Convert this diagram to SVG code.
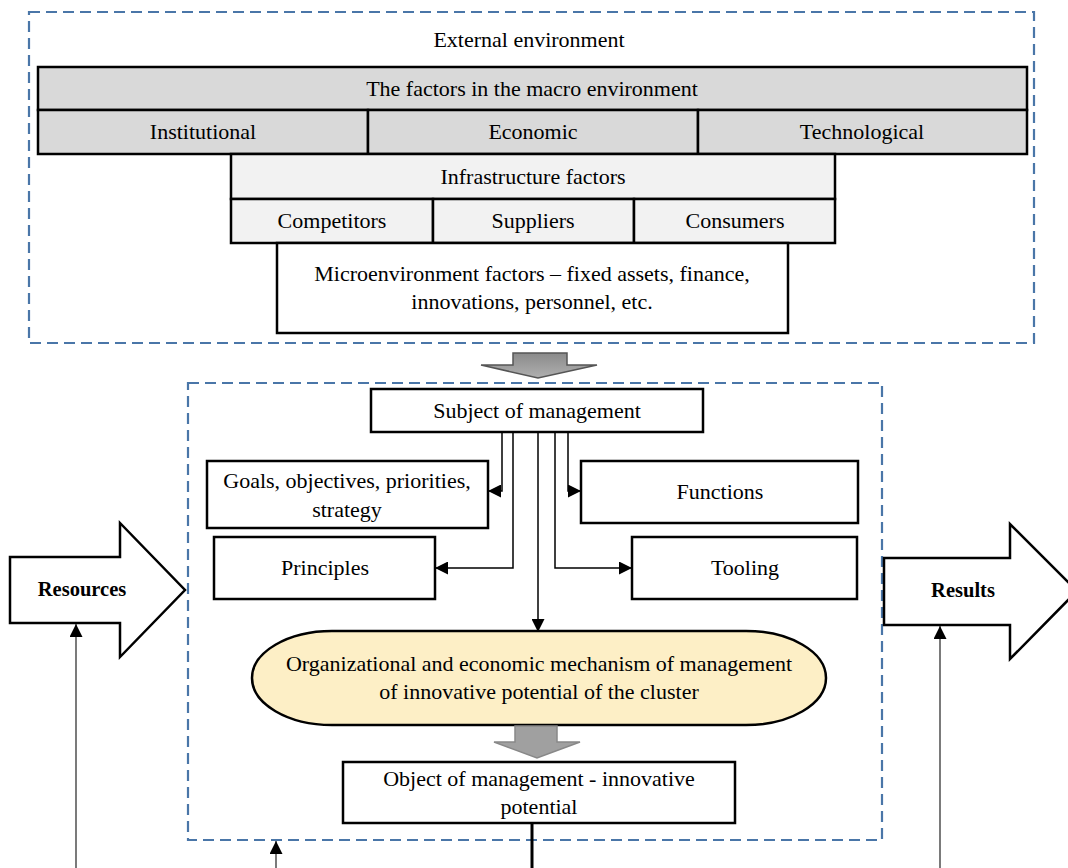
<svg xmlns="http://www.w3.org/2000/svg" width="1068" height="868" viewBox="0 0 1068 868">
<style>
text{font-family:"Liberation Serif","Times New Roman",serif;font-size:22px;fill:#000;text-anchor:middle;dominant-baseline:central}
.b{font-weight:bold;font-size:20.5px}
.box{stroke:#000;stroke-width:2.5}
.dash{fill:none;stroke:#4a76a8;stroke-width:2.2;stroke-dasharray:11 6}
.macro{fill:#d9d9d9}
.infra{fill:#f2f2f2}
.w{fill:#fff}
.con{fill:none;stroke:#000;stroke-width:1.5}
.thin{fill:none;stroke:#333;stroke-width:1.3}
</style>
<defs>
<marker id="ah2" viewBox="0 0 10 10" refX="10" refY="5" markerWidth="14" markerHeight="13" markerUnits="userSpaceOnUse" orient="auto">
<path d="M0 0L10 5L0 10z" fill="#000"/>
</marker>
<linearGradient id="g1" x1="0" y1="0" x2="0" y2="1">
<stop offset="0" stop-color="#8a8a8a"/>
<stop offset="1" stop-color="#b0b0b0"/>
</linearGradient>
</defs>
<rect x="0" y="0" width="1068" height="868" fill="#fff"/>

<g id="external">
<rect class="dash" x="29" y="12" width="1005" height="331"/>
<text x="529" y="39">External environment</text>
</g>
<g id="macro">
<rect class="box macro" x="38" y="67" width="989" height="43"/>
<text x="532" y="88">The factors in the macro environment</text>
</g>
<g id="institutional">
<rect class="box macro" x="38" y="110" width="330" height="44"/>
<text x="203" y="131">Institutional</text>
</g>
<g id="economic">
<rect class="box macro" x="368" y="110" width="330" height="44"/>
<text x="533" y="131">Economic</text>
</g>
<g id="technological">
<rect class="box macro" x="698" y="110" width="329" height="44"/>
<text x="862" y="131">Technological</text>
</g>
<g id="infrastructure">
<rect class="box infra" x="231" y="154" width="604" height="45"/>
<text x="533" y="176">Infrastructure factors</text>
</g>
<g id="competitors">
<rect class="box infra" x="231" y="199" width="202" height="44"/>
<text x="332" y="220">Competitors</text>
</g>
<g id="suppliers">
<rect class="box infra" x="433" y="199" width="201" height="44"/>
<text x="533" y="220">Suppliers</text>
</g>
<g id="consumers">
<rect class="box infra" x="634" y="199" width="201" height="44"/>
<text x="735" y="220">Consumers</text>
</g>
<g id="micro">
<rect class="box w" x="277" y="243" width="511" height="90"/>
<text x="532" y="273">Microenvironment factors – fixed assets, finance,</text>
<text x="532" y="301">innovations, personnel, etc.</text>
</g>

<g id="internal">
<rect class="dash" x="188" y="383" width="694" height="457"/>
</g>

<g id="arrow1">
<path d="M513 353H567V365H597L538 378L481 365H513Z" fill="url(#g1)" stroke="#555" stroke-width="1.5"/>
</g>

<g id="subject">
<rect class="box w" x="371" y="389" width="332" height="43"/>
<text x="537" y="410">Subject of management</text>
</g>
<g id="goals">
<rect class="box w" x="207" y="461" width="281" height="67"/>
<text x="347" y="480">Goals, objectives, priorities,</text>
<text x="347" y="509">strategy</text>
</g>
<g id="functions">
<rect class="box w" x="581" y="461" width="277" height="62"/>
<text x="720" y="491">Functions</text>
</g>
<g id="principles">
<rect class="box w" x="214" y="537" width="221" height="62"/>
<text x="325" y="567">Principles</text>
</g>
<g id="tooling">
<rect class="box w" x="632" y="537" width="225" height="62"/>
<text x="745" y="567">Tooling</text>
</g>
<g id="mechanism">
<rect x="252" y="631" width="574" height="94" rx="80" ry="47" fill="#fdefc6" stroke="#000" stroke-width="2.5"/>
<text x="539" y="663">Organizational and economic mechanism of management</text>
<text x="539" y="691">of innovative potential of the cluster</text>
</g>
<g id="arrow2">
<path d="M515 726H557V742H580L537 758L494 742H515Z" fill="#a0a0a0" stroke="#888" stroke-width="1.5"/>
</g>
<g id="object">
<rect class="box w" x="343" y="762" width="392" height="61"/>
<text x="539" y="778">Object of management - innovative</text>
<text x="539" y="806">potential</text>
</g>

<g id="resources">
<path d="M10 557H120V523L185 590L120 657V623H10Z" fill="#fff" stroke="#000" stroke-width="2.5"/>
<text class="b" x="82" y="589">Resources</text>
</g>
<g id="results">
<path d="M884 558H1010V524L1077 591L1010 659V625H884Z" fill="#fff" stroke="#000" stroke-width="2.5"/>
<text class="b" x="963" y="590">Results</text>
</g>

<g id="connectors">
<path class="con" d="M502 432V491H488" marker-end="url(#ah2)"/>
<path class="con" d="M513 432V568H435" marker-end="url(#ah2)"/>
<path class="con" d="M538 432V632" marker-end="url(#ah2)"/>
<path class="con" d="M555 432V568H632" marker-end="url(#ah2)"/>
<path class="con" d="M568 432V491H581" marker-end="url(#ah2)"/>
<path d="M532 823V868" fill="none" stroke="#000" stroke-width="3"/>
<path class="thin" d="M276 868V841" marker-end="url(#ah2)"/>
<path class="thin" d="M76 868V624" marker-end="url(#ah2)"/>
<path class="thin" d="M940 868V626" marker-end="url(#ah2)"/>
</g>
</svg>
